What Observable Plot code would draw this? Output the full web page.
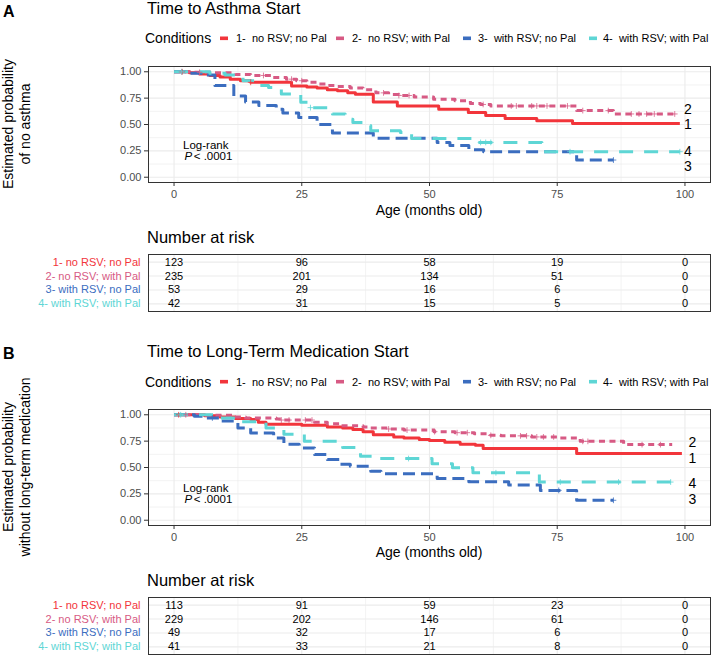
<!DOCTYPE html>
<html><head><meta charset="utf-8">
<script src="https://cdn.jsdelivr.net/npm/d3@7"></script>
<script src="https://cdn.jsdelivr.net/npm/@observablehq/plot@0.6"></script>
<style>
body{margin:0;background:#fff;}
#root{position:relative;width:714px;height:655px;overflow:hidden;background:#fff;}
</style></head><body><div id="root"></div>
<script>
// ---------------- DATA ----------------
const conditionLabels = ["1- no RSV; no Pal","2- no RSV; with Pal","3- with RSV; no Pal","4- with RSV; with Pal"];
const legendLabels = ["1-  no RSV; no Pal","2-  no RSV; with Pal","3-  with RSV; no Pal","4-  with RSV; with Pal"];
const curveNumbers = ["1","2","3","4"];
const xTicks = [0,25,50,75,100];
const xMinor = [12.5,37.5,62.5,87.5];
const yTicks = [0,0.25,0.5,0.75,1];
const yMinor = [0.125,0.375,0.625,0.875];
const riskTimes = [0,25,50,75,100];

// Panel A: Time to Asthma Start  [months, survival]
const asthma1 = [[0,1],[3,0.99],[5,0.98],[7,0.965],[9,0.95],[11,0.93],[13,0.915],[15,0.90],[23,0.865],[26,0.855],[28,0.845],[30,0.83],[32,0.82],[34,0.80],[35.5,0.786],[39,0.714],[43.7,0.676],[51.8,0.645],[57.6,0.613],[61,0.585],[64.8,0.557],[71,0.535],[78,0.51],[99,0.51]];
const asthma2 = [[0,1],[4,0.995],[8,0.99],[12,0.975],[15,0.965],[19,0.945],[22,0.93],[24,0.915],[26,0.90],[28,0.885],[30,0.87],[32,0.86],[34.5,0.846],[37,0.83],[39.5,0.80],[42,0.785],[44,0.775],[47,0.76],[50.8,0.74],[55,0.725],[58,0.70],[60,0.69],[62,0.676],[78.8,0.632],[86,0.60],[98,0.60]];
const asthma3 = [[0,1],[3,0.985],[6,0.97],[8,0.87],[11.7,0.77],[14,0.714],[16.6,0.68],[20,0.645],[21.3,0.61],[24.4,0.566],[28,0.50],[31,0.42],[39,0.37],[51.5,0.33],[54,0.30],[57.7,0.26],[60.6,0.242],[78.8,0.163],[86,0.163]];
const asthma4 = [[0,1],[7,0.985],[10,0.97],[12,0.945],[13.5,0.915],[16,0.87],[18.5,0.85],[21,0.79],[24.8,0.71],[26.5,0.66],[31,0.60],[33.5,0.55],[35,0.52],[37,0.49],[38.5,0.44],[44.3,0.425],[46.5,0.368],[58.6,0.33],[72,0.242],[99,0.242]];
const asthmaCensor1 = [1.6,15];
const asthmaCensor2 = [1.5,5,17.5,23,25,41,44,46,60.5,66,67,70,71,73,77,80,85,89.5,91,92.5,94,98];
const asthmaCensor3 = [86];
const asthmaCensor4 = [1.5,26.7,60,61,62,77.5,99];
const asthmaEndLabelY = [0.497,0.639,0.097,0.248];
const asthmaRisk1 = [123,96,58,19,0];
const asthmaRisk2 = [235,201,134,51,0];
const asthmaRisk3 = [53,29,16,6,0];
const asthmaRisk4 = [42,31,15,5,0];

// Panel B: Time to Long-Term Medication Start
const med1 = [[0,1],[6,0.99],[9,0.98],[12,0.965],[15,0.955],[16.5,0.93],[18,0.91],[25,0.90],[30,0.885],[33,0.875],[35,0.86],[37,0.84],[39,0.81],[43,0.79],[45,0.78],[48,0.765],[50,0.755],[53,0.74],[56,0.72],[59,0.71],[60.5,0.68],[78.8,0.632],[99.4,0.632]];
const med2 = [[0,1],[6,0.995],[11.5,0.98],[14,0.97],[20,0.96],[21,0.95],[27.5,0.93],[30,0.915],[32.6,0.896],[37,0.885],[38,0.874],[42,0.865],[45,0.855],[50.9,0.84],[55,0.83],[58.8,0.82],[62,0.805],[64,0.80],[70,0.79],[75,0.78],[79.5,0.748],[88,0.717],[97.5,0.717]];
const med3 = [[0,1],[4,0.985],[6,0.97],[9,0.94],[12.5,0.874],[15,0.827],[19.5,0.78],[21.5,0.72],[24.5,0.686],[27.5,0.623],[30,0.575],[32.5,0.53],[34.5,0.513],[38.5,0.465],[40.5,0.44],[51.5,0.396],[57.7,0.365],[65.5,0.333],[71.7,0.283],[78.8,0.189],[86,0.189]];
const med4 = [[0,1],[7.8,0.97],[13,0.935],[18,0.875],[21.5,0.815],[25.5,0.75],[33,0.69],[35.5,0.67],[36.5,0.607],[39,0.585],[50.5,0.535],[54.5,0.497],[58.5,0.45],[71.5,0.362],[99,0.362]];
const medCensor1 = [0.9];
const medCensor2 = [2.3,21,22.5,25.7,27,42,45.6,51,55.4,57.4,62,67.8,69,71,72.3,74.3,80,81,91.6,95.2];
const medCensor3 = [7.5,75.3,86];
const medCensor4 = [1.3,45.9,63,75.6,87,97.2];
const medEndLabelY = [0.586,0.738,0.195,0.352];
const medRisk1 = [113,91,59,23,0];
const medRisk2 = [229,202,146,61,0];
const medRisk3 = [49,32,17,6,0];
const medRisk4 = [41,33,21,8,0];

// ---------------- STYLE ----------------
const FONT = '"Liberation Sans", Arial, Helvetica, sans-serif';
const colors = ["#F2353B","#D75A84","#3B6DBF","#5ED6D5"];
const dashes = [null,"6,4.5","12,6","14,11"];
const GRID = "#EBEBEB";

const root = document.getElementById("root");

function survAt(curve, t) {
  let s = curve[0][1];
  for (const [tt, ss] of curve) { if (tt <= t) s = ss; else break; }
  return s;
}

function curvePlot(curves, censors, endY, endDx) {
  const marks = [
    Plot.ruleX(xMinor, {stroke: GRID, strokeWidth: 0.6}),
    Plot.ruleY(yMinor, {stroke: GRID, strokeWidth: 0.6}),
    Plot.ruleX(xTicks, {stroke: GRID, strokeWidth: 1.1}),
    Plot.ruleY(yTicks, {stroke: GRID, strokeWidth: 1.1}),
  ];
  curves.forEach((c, i) => {
    const pts = c.map(([t, s]) => ({t, s}));
    marks.push(Plot.line(pts, {x: "t", y: "s", curve: "step-after", stroke: colors[i], strokeWidth: 3,
      strokeDasharray: dashes[i] || undefined, strokeLinecap: "butt"}));
  });
  censors.forEach((cs, i) => {
    const pts = cs.map(t => ({t, s: survAt(curves[i], t)}));
    marks.push(Plot.dot(pts, {x: "t", y: "s", symbol: "plus", r: 2, stroke: colors[i], strokeWidth: 0.8}));
  });
  const labs = curveNumbers.map((n, i) => ({n, y: endY[i]}));
  marks.push(Plot.text(labs, {x: () => 100, y: "y", text: "n", textAnchor: "start", dx: endDx, fontSize: 14, fill: "#000"}));
  marks.push(Plot.text(["Log-rank"], {x: () => 6.2, y: () => 0.298, text: d => d, fontSize: 11.5, fill: "#000"}));
  marks.push(Plot.text(["P"], {x: () => 2.05, y: () => 0.198, text: d => d, fontSize: 11.5, fontStyle: "italic", textAnchor: "start", fill: "#000"}));
  marks.push(Plot.text(["< .0001"], {x: () => 3.85, y: () => 0.198, text: d => d, fontSize: 11.5, textAnchor: "start", fill: "#000"}));
  marks.push(Plot.frame({stroke: "#333333", strokeWidth: 1}));
  marks.push(Plot.axisX(xTicks, {tickSize: 4, tickPadding: 4, label: null, fill: "#4D4D4D", stroke: "#333333", fontSize: 11}));
  marks.push(Plot.axisY(yTicks, {tickSize: 4, tickPadding: 3, label: null, tickFormat: d => d.toFixed(2), fill: "#4D4D4D", stroke: "#333333", fontSize: 11}));
  return Plot.plot({
    width: 714, height: 151, marginLeft: 148, marginRight: 4, marginTop: 5, marginBottom: 30,
    x: {domain: [-5, 105]}, y: {domain: [-0.05, 1.05]},
    style: {fontFamily: FONT, fontSize: "11px", background: "transparent", overflow: "visible"},
    marks
  });
}

function tablePlot(risks) {
  const rows = [1,2,3,4];
  const cells = [];
  risks.forEach((arr, i) => arr.forEach((n, j) => cells.push({t: riskTimes[j], row: i + 1, n})));
  const marks = [
    Plot.ruleX(xMinor, {stroke: GRID, strokeWidth: 0.6}),
    Plot.ruleX(xTicks, {stroke: GRID, strokeWidth: 1.1}),
    Plot.ruleY(rows, {stroke: GRID, strokeWidth: 1.1}),
    Plot.text(cells, {x: "t", y: "row", text: d => String(d.n), fontSize: 11, fill: "#000"}),
  ];
  conditionLabels.forEach((lab, i) => {
    marks.push(Plot.text([lab], {y: () => i + 1, text: d => d, frameAnchor: "left", textAnchor: "end", dx: -8, fontSize: 11, fill: colors[i]}));
  });
  marks.push(Plot.frame({stroke: "#333333", strokeWidth: 1}));
  return Plot.plot({
    width: 714, height: 59, marginLeft: 148, marginRight: 4, marginTop: 1, marginBottom: 1,
    x: {domain: [-5, 105], axis: null}, y: {domain: [4.55, 0.45], axis: null},
    style: {fontFamily: FONT, fontSize: "11px", background: "transparent", overflow: "visible"},
    marks
  });
}

function place(node, top) {
  node.style.position = "absolute";
  node.style.left = "0px";
  node.style.top = top + "px";
  root.appendChild(node);
}

const overlay = d3.create("svg").attr("width", 714).attr("height", 655)
  .style("position", "absolute").style("left", "0px").style("top", "0px")
  .style("font-family", FONT);

function txt(x, cy, s, fs, opts = {}) {
  const t = overlay.append("text").attr("x", x).attr("y", cy + 0.36 * fs)
    .attr("font-size", fs).attr("fill", opts.fill || "#000").style("white-space", "pre").text(s);
  if (opts.anchor) t.attr("text-anchor", opts.anchor);
  if (opts.weight) t.attr("font-weight", opts.weight);
  return t;
}

function panel(cfg) {
  place(curvePlot(cfg.curves, cfg.censors, cfg.endY, cfg.endDx), cfg.plotTop);
  place(tablePlot(cfg.risks), cfg.tableTop);
  txt(3, cfg.letterY, cfg.letter, 16, {weight: "bold"});
  txt(147, cfg.titleY, cfg.title, 16.5);
  txt(145, cfg.legendY, "Conditions", 14);
  const keyX = [220, 336, 463, 589];
  const labX = [236, 352, 478, 603];
  legendLabels.forEach((lab, i) => {
    overlay.append("rect").attr("x", keyX[i]).attr("y", cfg.legendY - 1.8).attr("width", 8).attr("height", 3.6).attr("fill", colors[i]);
    txt(labX[i], cfg.legendY, lab, 11);
  });
  cfg.ylab.forEach((line, k) => {
    overlay.append("text").attr("transform", `translate(${k === 0 ? 12.5 : 29.5},${cfg.yLabY}) rotate(-90)`)
      .attr("text-anchor", "middle").attr("font-size", 14).attr("fill", "#000").text(line);
  });
  txt(429, cfg.axisTitleY, "Age (months old)", 14, {anchor: "middle"});
  txt(147, cfg.riskTitleY, "Number at risk", 16.5);
}

panel({
  letter: "A", letterY: 11.5, title: "Time to Asthma Start", titleY: 8.5, legendY: 38.3,
  plotTop: 61, tableTop: 253, yLabY: 124, axisTitleY: 209.5, riskTitleY: 237.5,
  ylab: ["Estimated probability", "of no asthma"],
  curves: [asthma1, asthma2, asthma3, asthma4],
  censors: [asthmaCensor1, asthmaCensor2, asthmaCensor3, asthmaCensor4],
  endY: asthmaEndLabelY, endDx: -1,
  risks: [asthmaRisk1, asthmaRisk2, asthmaRisk3, asthmaRisk4]
});
panel({
  letter: "B", letterY: 353.5, title: "Time to Long-Term Medication Start", titleY: 351, legendY: 381.7,
  plotTop: 404, tableTop: 596, yLabY: 467, axisTitleY: 552, riskTitleY: 580.5,
  ylab: ["Estimated probability", "without long-term medication"],
  curves: [med1, med2, med3, med4],
  censors: [medCensor1, medCensor2, medCensor3, medCensor4],
  endY: medEndLabelY, endDx: 3.5,
  risks: [medRisk1, medRisk2, medRisk3, medRisk4]
});

root.appendChild(overlay.node());
</script>
</body></html>
